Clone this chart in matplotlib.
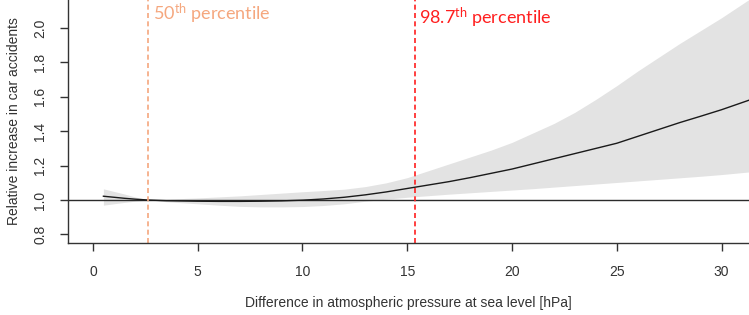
import matplotlib
matplotlib.use("Agg")
import matplotlib.pyplot as plt
import numpy as np

plt.rcParams['font.family'] = ['Liberation Sans', 'DejaVu Sans']
plt.rcParams['mathtext.fontset'] = 'custom'
plt.rcParams['mathtext.rm'] = 'Lato'
plt.rcParams['mathtext.it'] = 'Lato'

# Data
pressure_diff = [0.5, 1.0, 1.5, 2.0, 2.63, 3.5, 5, 6, 7, 8, 9, 10, 11, 12, 13, 14, 15,
                 16, 17, 18, 19, 20, 21, 22, 23, 24, 25, 26, 27, 28, 29, 30, 31.3]
rr_fit = [1.022, 1.016, 1.010, 1.005, 1.000, 0.996, 0.993, 0.992, 0.992, 0.993, 0.995,
          0.999, 1.006, 1.016, 1.030, 1.047, 1.067, 1.087, 1.107, 1.130, 1.155, 1.180,
          1.210, 1.240, 1.270, 1.300, 1.330, 1.370, 1.410, 1.450, 1.487, 1.525, 1.580]
rr_upper = [1.065, 1.050, 1.035, 1.018, 1.000, 1.005, 1.012, 1.018, 1.024, 1.032, 1.040,
            1.048, 1.055, 1.063, 1.078, 1.100, 1.130, 1.170, 1.210, 1.250, 1.290, 1.335,
            1.390, 1.445, 1.510, 1.585, 1.665, 1.750, 1.830, 1.910, 1.985, 2.060, 2.165]
rr_lower = [0.970, 0.978, 0.986, 0.993, 1.000, 0.990, 0.978, 0.970, 0.963, 0.960, 0.960,
            0.962, 0.968, 0.978, 0.993, 1.005, 1.016, 1.025, 1.034, 1.042, 1.050, 1.058,
            1.066, 1.075, 1.084, 1.093, 1.102, 1.111, 1.120, 1.129, 1.138, 1.148, 1.163]
p50 = 2.63
p987 = 15.37
xticks = [0, 5, 10, 15, 20, 25, 30]
yticks = [0.8, 1.0, 1.2, 1.4, 1.6, 1.8, 2.0]

fig = plt.figure(figsize=(7.49, 3.15), dpi=100)
ax = fig.add_axes([68/749, 72/315, 1 - 68/749, 1 - 72/315])

ax.fill_between(pressure_diff, rr_lower, rr_upper, color='#e3e3e3', linewidth=0)
ax.axhline(1.0, color='#2b2b2b', lw=1.0)
ax.plot(pressure_diff, rr_fit, color='#1a1a1a', lw=1.0)

ax.axvline(p50, color='#f5a77e', lw=1.2, dashes=(3, 2), ymin=0)
ax.axvline(p987, color='#ff1f1f', lw=1.2, dashes=(3, 2), ymin=0)

ax.text(2.86, 2.048, r"50$^{\mathrm{th}}$ percentile", color='#f5a77e',
        fontsize=13, family='Lato', va='baseline', ha='left')
ax.text(15.56, 2.025, r"98.7$^{\mathrm{th}}$ percentile", color='#ff1f1f',
        fontsize=13, family='Lato', va='baseline', ha='left')

ax.set_xlim(-1.19, 31.31)
ax.set_ylim(0.75, 2.163)
ax.set_xticks(xticks)
ax.set_yticks(yticks)
ax.set_xticklabels([str(v) for v in xticks])
ax.set_yticklabels([f"{v:.1f}" for v in yticks], rotation=90, va='center')

for s in ['top', 'right']:
    ax.spines[s].set_visible(False)
for s in ['left', 'bottom']:
    ax.spines[s].set_color('#333333')
    ax.spines[s].set_linewidth(1.0)

ax.tick_params(axis='both', direction='out', length=6, width=1.0, color='#333333',
               labelsize=10, labelcolor='#333333')
ax.tick_params(axis='x', pad=10)
ax.tick_params(axis='y', pad=9)

ax.set_xlabel("Difference in atmospheric pressure at sea level [hPa]", fontsize=10,
              color='#333333', labelpad=12)
ax.set_ylabel("Relative increase in car accidents", fontsize=10, color='#333333',
              labelpad=9)

fig.savefig("out.png", dpi=100)
